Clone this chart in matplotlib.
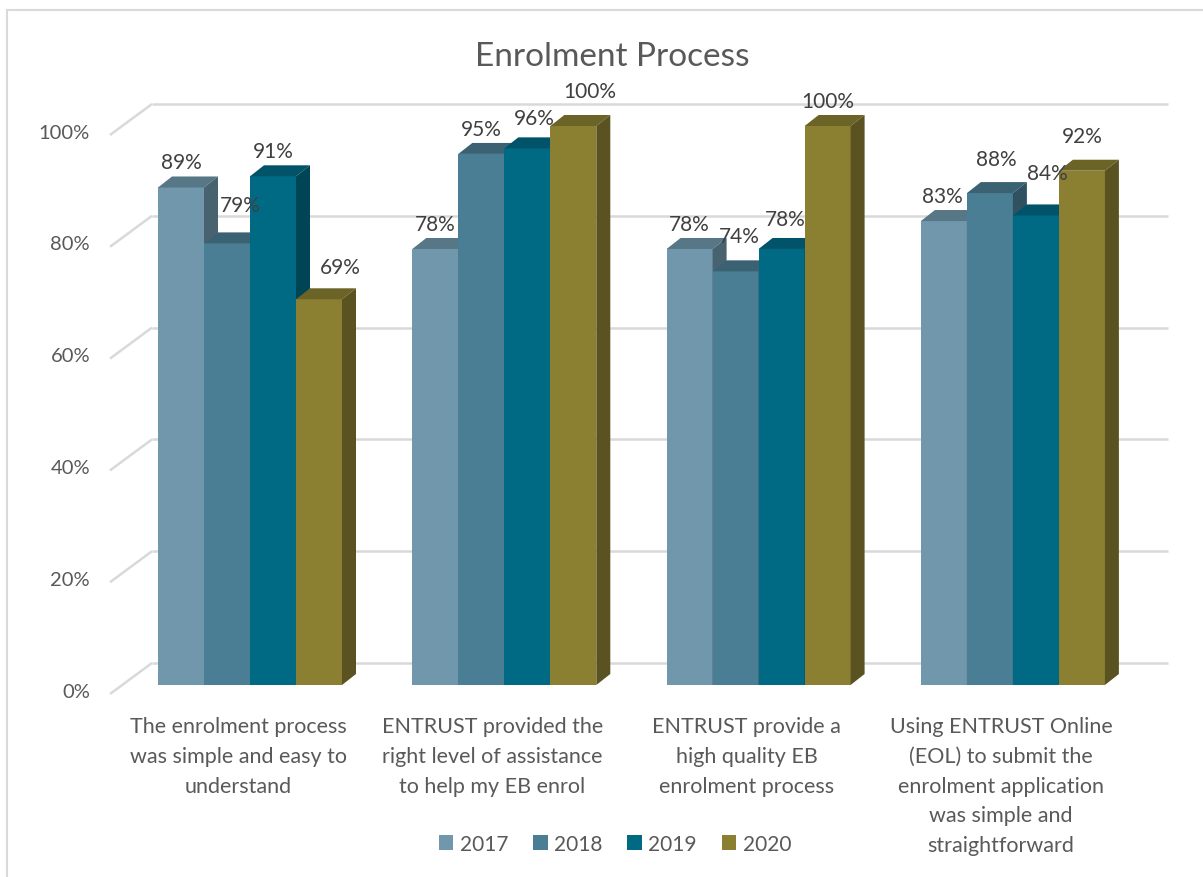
import matplotlib
matplotlib.use("Agg")
import matplotlib.pyplot as plt
from matplotlib.patches import Polygon, Patch
from matplotlib.lines import Line2D
import numpy as np

plt.rcParams['font.family'] = ['Lato', 'DejaVu Sans']

# ---------------- data ----------------
title = "Enrolment Process"
categories = [
    "The enrolment process\nwas simple and easy to\nunderstand",
    "ENTRUST provided the\nright level of assistance\nto help my EB enrol",
    "ENTRUST provide a\nhigh quality EB\nenrolment process",
    "Using ENTRUST Online\n(EOL) to submit the\nenrolment application\nwas simple and\nstraightforward",
]
series_names = ["2017", "2018", "2019", "2020"]
values_2017 = [89, 78, 78, 83]
values_2018 = [79, 95, 74, 88]
values_2019 = [91, 96, 78, 84]
values_2020 = [69, 100, 100, 92]
y_ticks = [0, 20, 40, 60, 80, 100]
y_tick_labels = ["0%", "20%", "40%", "60%", "80%", "100%"]

series_values = [values_2017, values_2018, values_2019, values_2020]
colors = ["#7097AC", "#4A7E94", "#006A85", "#8B8032"]

# data-label nudges (px right, px above bar front top), per series / category
label_nudge = [
    [(0, 25), (0, 25), (0, 25), (-2, 25)],
    [(13, 38), (0, 25), (4, 35), (6, 34)],
    [(0, 25), (7, 30), (4, 30), (11, 42)],
    [(21, 32), (16, 35), (0, 25), (0, 35)],
]

# ---------------- layout (pixel based mapping) ----------------
W, H = 1203, 878
GROUP_PX = 254.3      # px per category
X0_PX = 250           # px of first category centre
Y_PX_PER = 5.59       # px per percent
Y0_PX = 686           # px of 0% at bar front


def px2x(p):
    return (p - X0_PX) / GROUP_PX


def py2y(p):
    return (Y0_PX - p) / Y_PX_PER


def dpx(p):
    return p / GROUP_PX


def dpy(p):
    return p / Y_PX_PER


fig = plt.figure(figsize=(W / 100, H / 100), dpi=100)
ax = fig.add_axes([0, 0, 1, 1])
ax.set_xlim(px2x(0), px2x(W))
ax.set_ylim(py2y(H), py2y(0))
ax.axis("off")

# depth offsets
bar_dx, bar_dy = dpx(14), dpy(11)
floor_dx, floor_dy = dpx(-12), dpy(-9)
back_dx, back_dy = dpx(30), dpy(22)
grid_right = px2x(1168)
grid_color = "#D9D9D9"

x_front_left = px2x(110)
for v, lab in zip(y_ticks, y_tick_labels):
    ax.plot([x_front_left, x_front_left + dpx(42)],
            [v + floor_dy, v + back_dy], color=grid_color, lw=1.8,
            zorder=1, solid_capstyle="butt")
    ax.plot([x_front_left + dpx(42), grid_right], [v + back_dy, v + back_dy],
            color=grid_color, lw=1.8, zorder=1, solid_capstyle="butt")
    ax.text(px2x(90), v + floor_dy + dpy(3), lab,
            ha="right", va="center", fontsize=14.5, color="#595959")


def shade(c, f):
    c = np.array(matplotlib.colors.to_rgb(c))
    return tuple(c * f)


w = dpx(46)
n = len(series_values)
x_idx = np.arange(len(categories))
handles = []
for s, (vals, col) in enumerate(zip(series_values, colors)):
    xs = x_idx + (s - (n - 1) / 2) * w
    z = 10 + s * 3
    ax.bar(xs, vals, width=w, color=col, zorder=z, linewidth=0)
    handles.append(Patch(facecolor=col, label=series_names[s]))
    for j, (x, v) in enumerate(zip(xs, vals)):
        top = Polygon([(x - w / 2, v), (x + w / 2, v),
                       (x + w / 2 + bar_dx, v + bar_dy), (x - w / 2 + bar_dx, v + bar_dy)],
                      closed=True, facecolor=shade(col, 0.78), edgecolor="none", zorder=z + 1)
        side = Polygon([(x + w / 2, 0), (x + w / 2, v),
                        (x + w / 2 + bar_dx, v + bar_dy), (x + w / 2 + bar_dx, bar_dy)],
                       closed=True, facecolor=shade(col, 0.65), edgecolor="none", zorder=z + 1)
        ax.add_patch(top)
        ax.add_patch(side)
        ndx, ndy = label_nudge[s][j]
        ax.text(x + dpx(ndx), v + dpy(ndy), f"{v}%", ha="center", va="center",
                fontsize=15, color="#404040", zorder=50)

# category labels
for i, lab in enumerate(categories):
    ax.text(i + floor_dx, py2y(717), lab, ha="center", va="top", fontsize=15.5,
            color="#595959", linespacing=1.61)

# title
ax.text(px2x(612), py2y(57), title, ha="center", va="center", fontsize=24, color="#595959")

# legend
leg = fig.legend(handles=handles, loc="center", bbox_to_anchor=(615 / W, 1 - 845 / H),
                 ncol=4, frameon=False, fontsize=15, handlelength=0.7, handleheight=0.7,
                 handletextpad=0.3, columnspacing=1.2, labelcolor="#595959")

# chart border
fig.add_artist(Line2D([7 / W, 7 / W], [0, 1 - 11 / H], transform=fig.transFigure,
                      color=grid_color, lw=1.5))
fig.add_artist(Line2D([7 / W, 1], [1 - 11 / H, 1 - 11 / H], transform=fig.transFigure,
                      color=grid_color, lw=1.5))

fig.savefig("out.png", dpi=100)
